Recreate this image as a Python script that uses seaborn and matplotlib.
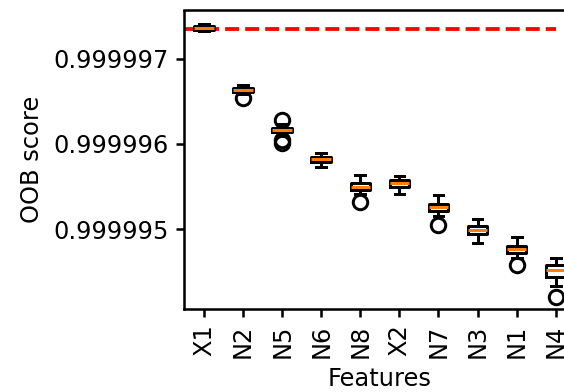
import numpy as np
import pandas as pd
import matplotlib
matplotlib.use("Agg")
import matplotlib.pyplot as plt
from matplotlib.ticker import FormatStrFormatter
import seaborn as sns

features = ["X1", "N2", "N5", "N6", "N8", "X2", "N7", "N3", "N1", "N4"]

X1 = [0.99999732, 0.99999733, 0.99999734, 0.99999734, 0.99999735, 0.99999735, 0.99999736,
      0.99999737, 0.99999737, 0.99999738, 0.99999739, 0.99999740, 0.99999741]
N2 = [0.99999654, 0.99999659, 0.99999660, 0.999996615, 0.99999662, 0.99999663, 0.99999663,
      0.99999664, 0.99999665, 0.999996655, 0.99999667, 0.99999668, 0.99999669]
N5 = [0.99999601, 0.99999605, 0.99999609, 0.999996135, 0.99999615, 0.99999616, 0.99999616,
      0.99999617, 0.99999618, 0.999996185, 0.99999620, 0.99999623, 0.99999628]
N6 = [0.99999573, 0.99999576, 0.99999578, 0.99999579, 0.99999580, 0.99999581, 0.99999582,
      0.99999583, 0.99999584, 0.99999585, 0.99999587, 0.99999588, 0.99999590]
N8 = [0.99999532, 0.99999541, 0.99999544, 0.99999546, 0.99999548, 0.99999549, 0.99999550,
      0.99999552, 0.99999553, 0.99999554, 0.99999558, 0.99999561, 0.99999564]
X2 = [0.99999541, 0.99999545, 0.99999548, 0.99999550, 0.99999552, 0.99999553, 0.99999554,
      0.99999555, 0.99999557, 0.99999558, 0.99999559, 0.99999560, 0.99999562]
N7 = [0.99999505, 0.99999516, 0.99999519, 0.99999521, 0.99999523, 0.99999525, 0.99999526,
      0.99999527, 0.99999529, 0.99999530, 0.99999533, 0.99999537, 0.99999540]
N3 = [0.99999484, 0.99999489, 0.99999492, 0.99999495, 0.99999497, 0.99999498, 0.99999499,
      0.99999501, 0.99999502, 0.99999504, 0.99999507, 0.99999510, 0.99999512]
N1 = [0.99999458, 0.99999466, 0.99999469, 0.99999472, 0.99999474, 0.99999476, 0.99999477,
      0.99999478, 0.99999479, 0.99999480, 0.99999484, 0.99999488, 0.99999491]
N4 = [0.99999421, 0.99999433, 0.99999438, 0.99999444, 0.99999448, 0.99999450, 0.99999452,
      0.99999454, 0.99999456, 0.99999458, 0.99999461, 0.99999463, 0.99999466]

baseline_score = 0.99999735
yticks = [0.999995, 0.999996, 0.999997]

series = {"X1": X1, "N2": N2, "N5": N5, "N6": N6, "N8": N8,
          "X2": X2, "N7": N7, "N3": N3, "N1": N1, "N4": N4}
rows = [(f, v) for f in features for v in series[f]]
df = pd.DataFrame(rows, columns=["Feature", "score"])

FS = 10.5
DPI = 165
fig = plt.figure(figsize=(564 / DPI, 392 / DPI), dpi=DPI)
fig.patch.set_facecolor("white")
ax = fig.add_axes([184.46 / 564, 83.5 / 392, 390.8 / 564, 298.0 / 392])

ax.hlines(baseline_score, -1, len(features) - 1, colors="red",
          linestyles="--", linewidth=1.65, zorder=1)

sns.boxplot(data=df, x="Feature", y="score", order=features, ax=ax,
            width=0.5, fill=False, color="black", linewidth=1.3, whis=1.5,
            medianprops={"color": "#ff7f0e", "linewidth": 1.3},
            flierprops={"marker": "o", "markerfacecolor": "none",
                        "markeredgecolor": "black", "markersize": 6.3,
                        "markeredgewidth": 1.3},
            zorder=2)

ax.set_xlim(-0.5, len(features) - 0.5)
ax.set_ylim(0.9999940715, 0.999997565)
ax.set_yticks(yticks)
ax.yaxis.set_major_formatter(FormatStrFormatter("%.6f"))
ax.tick_params(axis="x", labelrotation=90, labelsize=FS, width=1.1)
ax.tick_params(axis="y", labelsize=FS, width=1.1)
ax.set_xlabel("Features", fontsize=FS)
ax.set_ylabel("OOB score", fontsize=FS)
for s in ax.spines.values():
    s.set_visible(True)
    s.set_color("black")
    s.set_linewidth(1.1)

fig.savefig("out.png", dpi=DPI)
